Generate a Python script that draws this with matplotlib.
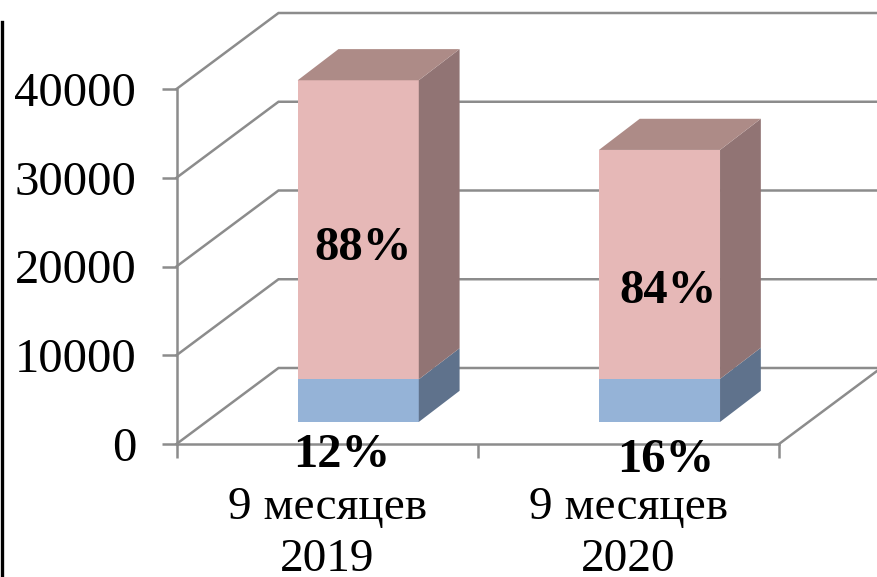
import matplotlib
matplotlib.use("Agg")
import matplotlib.pyplot as plt

categories = ["9 месяцев\n2019", "9 месяцев\n2020"]
lower = [4800, 4850]
upper = [33700, 25800]
lower_labels = ["12%", "16%"]
upper_labels = ["88%", "84%"]
yticks = [0, 10000, 20000, 30000, 40000]

W, H = 877, 577
L, R, T, B = 176.5, 779, 89, 444
fig = plt.figure(figsize=(W / 100, H / 100), dpi=100)
ax = fig.add_axes([L / W, 1 - B / H, (R - L) / W, (B - T) / H])
ax.set_xlim(0, 2)
ax.set_ylim(0, 40000)
ax.patch.set_visible(False)

GRID = "#8c8c8c"
# depth of the wall, in data units
DX = 102 / (R - L) * 2
DY = 76 / (B - T) * 40000

for y in yticks:
    ax.plot([0, DX, 2 + DX], [y, y + DY, y + DY], color=GRID, lw=1.8,
            clip_on=False, zorder=1, solid_joinstyle="miter")
ax.plot([2, 2 + DX], [0, DY], color=GRID, lw=1.8, clip_on=False, zorder=1)

for s in ("top", "right"):
    ax.spines[s].set_visible(False)
for s in ("left", "bottom"):
    ax.spines[s].set_color(GRID)
    ax.spines[s].set_linewidth(1.8)
ax.set_yticks(yticks)
ax.set_yticklabels([str(v) for v in yticks], family="Liberation Serif", fontsize=35)
ax.set_xticks([0, 1, 2])
ax.set_xticklabels([])
ax.tick_params(axis="both", color=GRID, width=1.8, length=10)
ax.tick_params(axis="y", length=11, pad=18)

# bars: set back from the front plane, with a shallower box depth
OX, OY = DX * 0.305, DY * 0.29
BX, BY = DX * 0.40, DY * 0.41
BW = 0.402
FRONT = ["#95b3d7", "#e6b8b7"]
SIDE = ["#5f728c", "#917474"]
TOP = ["#7f95b0", "#ad8b87"]

for i in range(2):
    x0 = i + 0.5 - BW / 2 + OX
    x1 = x0 + BW
    base = OY
    for vals, f, s, t in ((lower, FRONT[0], SIDE[0], TOP[0]), (upper, FRONT[1], SIDE[1], TOP[1])):
        h = vals[i]
        ax.bar(x0, h, BW, bottom=base, align="edge", color=f, zorder=3, clip_on=False)
        ax.fill([x1, x1 + BX, x1 + BX, x1], [base, base + BY, base + h + BY, base + h],
                color=s, lw=0, zorder=3, clip_on=False)
        base += h
    ax.fill([x0, x1, x1 + BX, x0 + BX], [base, base, base + BY, base + BY],
            color=TOP[1], lw=0, zorder=3, clip_on=False)

TEXT_STYLE = dict(ha="center", va="center", family="Liberation Serif", fontsize=35,
                  fontweight="bold", color="black", zorder=5, clip_on=False)
upper_y = [22050, 17250]
lower_y = [-1200, -1840]
upper_x = [0.618, 1.632]
lower_x = [0.548, 1.623]
for i in range(2):
    ax.text(upper_x[i], upper_y[i], upper_labels[i], **TEXT_STYLE)
    ax.text(lower_x[i], lower_y[i], lower_labels[i], **TEXT_STYLE)
    ax.text(i + 0.5, -4790, categories[i], ha="center", va="top", family="Liberation Serif",
            fontsize=34, linespacing=1.28, color="black", clip_on=False)

fig.add_artist(plt.Line2D([1.5 / W, 1.5 / W], [0, 1 - 22 / H], color="black", lw=2.4))
fig.savefig("out.png", dpi=100)
